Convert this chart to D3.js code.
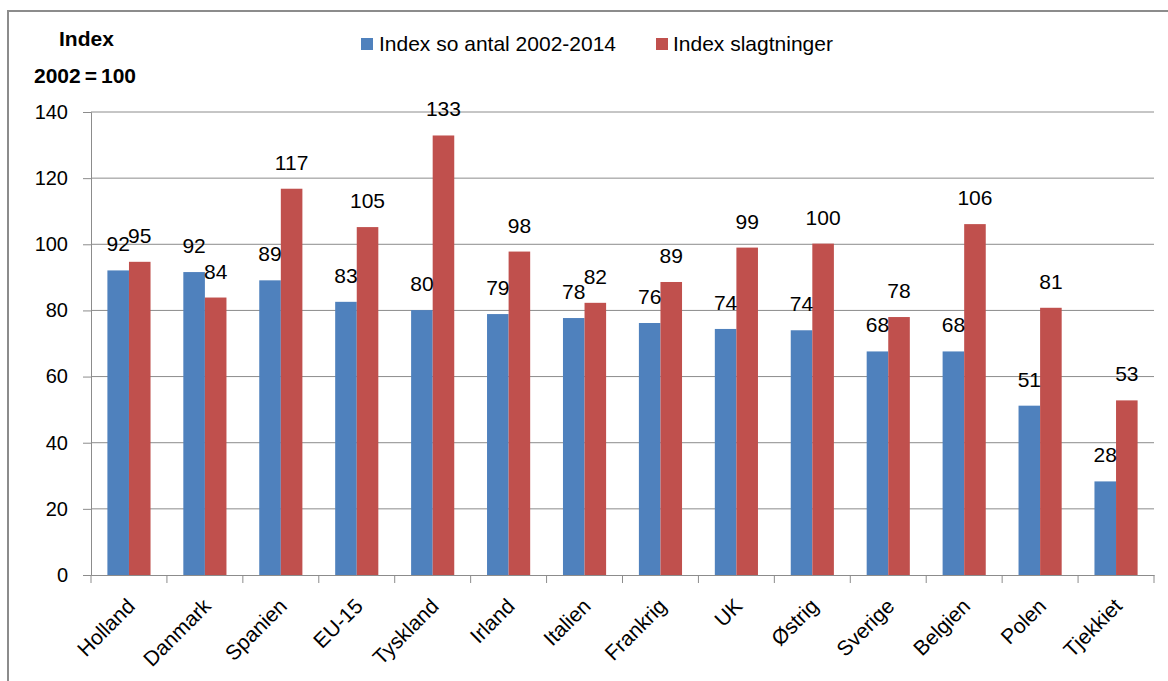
<!DOCTYPE html>
<html><head><meta charset="utf-8">
<script src="https://cdn.jsdelivr.net/npm/d3@7"></script>
<style>body{margin:0;background:#fff}svg{display:block}text{font-family:"Liberation Sans",Arial,sans-serif;fill:#000}</style>
</head><body>
<svg id="c" width="1168" height="681"></svg>
<script>
const categories = ["Holland","Danmark","Spanien","EU-15","Tyskland","Irland","Italien","Frankrig","UK","Østrig","Sverige","Belgien","Polen","Tjekkiet"];
const seriesNames = ["Index so antal 2002-2014","Index slagtninger"];
const antal = [92.1,91.6,89.1,82.6,80.1,78.9,77.7,76.2,74.4,74.0,67.6,67.6,51.2,28.3];
const slagt = [94.7,83.9,116.8,105.2,132.9,97.8,82.3,88.6,99.0,100.2,78.0,106.1,80.8,52.8];
const yTicks = [0,20,40,60,80,100,120,140];
const colors = ["#4F81BD","#C0504D"];

const svg = d3.select("#c");
const m = {left:91,right:1154,top:112,bottom:575};
svg.append("rect").attr("x",8).attr("y",11).attr("width",1200).attr("height",700)
  .attr("fill","none").attr("stroke","#8c8c8c").attr("stroke-width",2);

const x = d3.scaleBand().domain(categories).range([m.left,m.right]).paddingInner(0).paddingOuter(0);
const x1 = d3.scaleBand().domain([0,1]).range([0,x.bandwidth()]).paddingOuter(0.76).paddingInner(0);
const y = d3.scaleLinear().domain([0,140]).range([m.bottom,m.top]);

// gridlines
svg.append("g").selectAll("line").data(yTicks.filter(d=>d>0)).join("line")
  .attr("x1",m.left).attr("x2",m.right).attr("y1",d=>y(d)).attr("y2",d=>y(d))
  .attr("stroke","#8c8c8c").attr("stroke-width",1);

// y axis
const ya = svg.append("g").attr("transform",`translate(${m.left},0)`)
  .call(d3.axisLeft(y).tickValues(yTicks).tickSize(8).tickPadding(15));
ya.select(".domain").attr("stroke","#8c8c8c");
ya.selectAll(".tick line").attr("stroke","#8c8c8c");
ya.selectAll("text").attr("font-size",20).style("font-family","Liberation Sans, Arial");

// bars
const series = [antal, slagt];
const g = svg.append("g");
series.forEach((vals,si)=>{
  g.selectAll(".b"+si).data(categories).join("rect")
    .attr("x",(c)=>x(c)+x1(si)).attr("width",x1.bandwidth())
    .attr("y",(c,i)=>y(vals[i])).attr("height",(c,i)=>y(0)-y(vals[i]))
    .attr("fill",colors[si]);
});

// x axis
const xa = svg.append("g").attr("transform",`translate(0,${m.bottom})`)
  .call(d3.axisBottom(x).tickSize(0).tickFormat(""));
xa.select(".domain").attr("stroke","#8c8c8c");
svg.append("g").selectAll("line").data(d3.range(categories.length+1)).join("line")
  .attr("x1",i=>m.left+i*x.step()).attr("x2",i=>m.left+i*x.step())
  .attr("y1",m.bottom).attr("y2",m.bottom+8).attr("stroke","#8c8c8c");
svg.append("g").selectAll("text").data(categories).join("text")
  .attr("transform",c=>`translate(${x(c)+x.bandwidth()/2-3},${m.bottom+22}) rotate(-45)`)
  .attr("text-anchor","end").attr("dy","0.7em").attr("font-size",21).text(c=>c);

// labels
series.forEach((vals,si)=>{
  svg.append("g").selectAll("text").data(categories).join("text")
    .attr("x",c=>x(c)+x1(si)+x1.bandwidth()/2)
    .attr("y",(c,i)=>y(vals[i])-19)
    .attr("text-anchor","middle").attr("font-size",21)
    .text((c,i)=>Math.round(vals[i]));
});

// titles
svg.append("text").attr("x",59).attr("y",46).attr("font-size",21).attr("font-weight","bold").text("Index");
const t2 = svg.append("text").attr("x",34).attr("y",83).attr("font-size",21).attr("font-weight","bold");
t2.append("tspan").text("2002");
t2.append("tspan").attr("dx",4).text("=");
t2.append("tspan").attr("dx",4).text("100");

// legend
const lg = [{x:361,tx:379},{x:656,tx:673}];
lg.forEach((l,i)=>{
  svg.append("rect").attr("x",l.x).attr("y",38).attr("width",12).attr("height",12).attr("fill",colors[i]);
  svg.append("text").attr("x",l.tx).attr("y",51).attr("font-size",21).text(seriesNames[i]);
});
</script>
</body></html>
